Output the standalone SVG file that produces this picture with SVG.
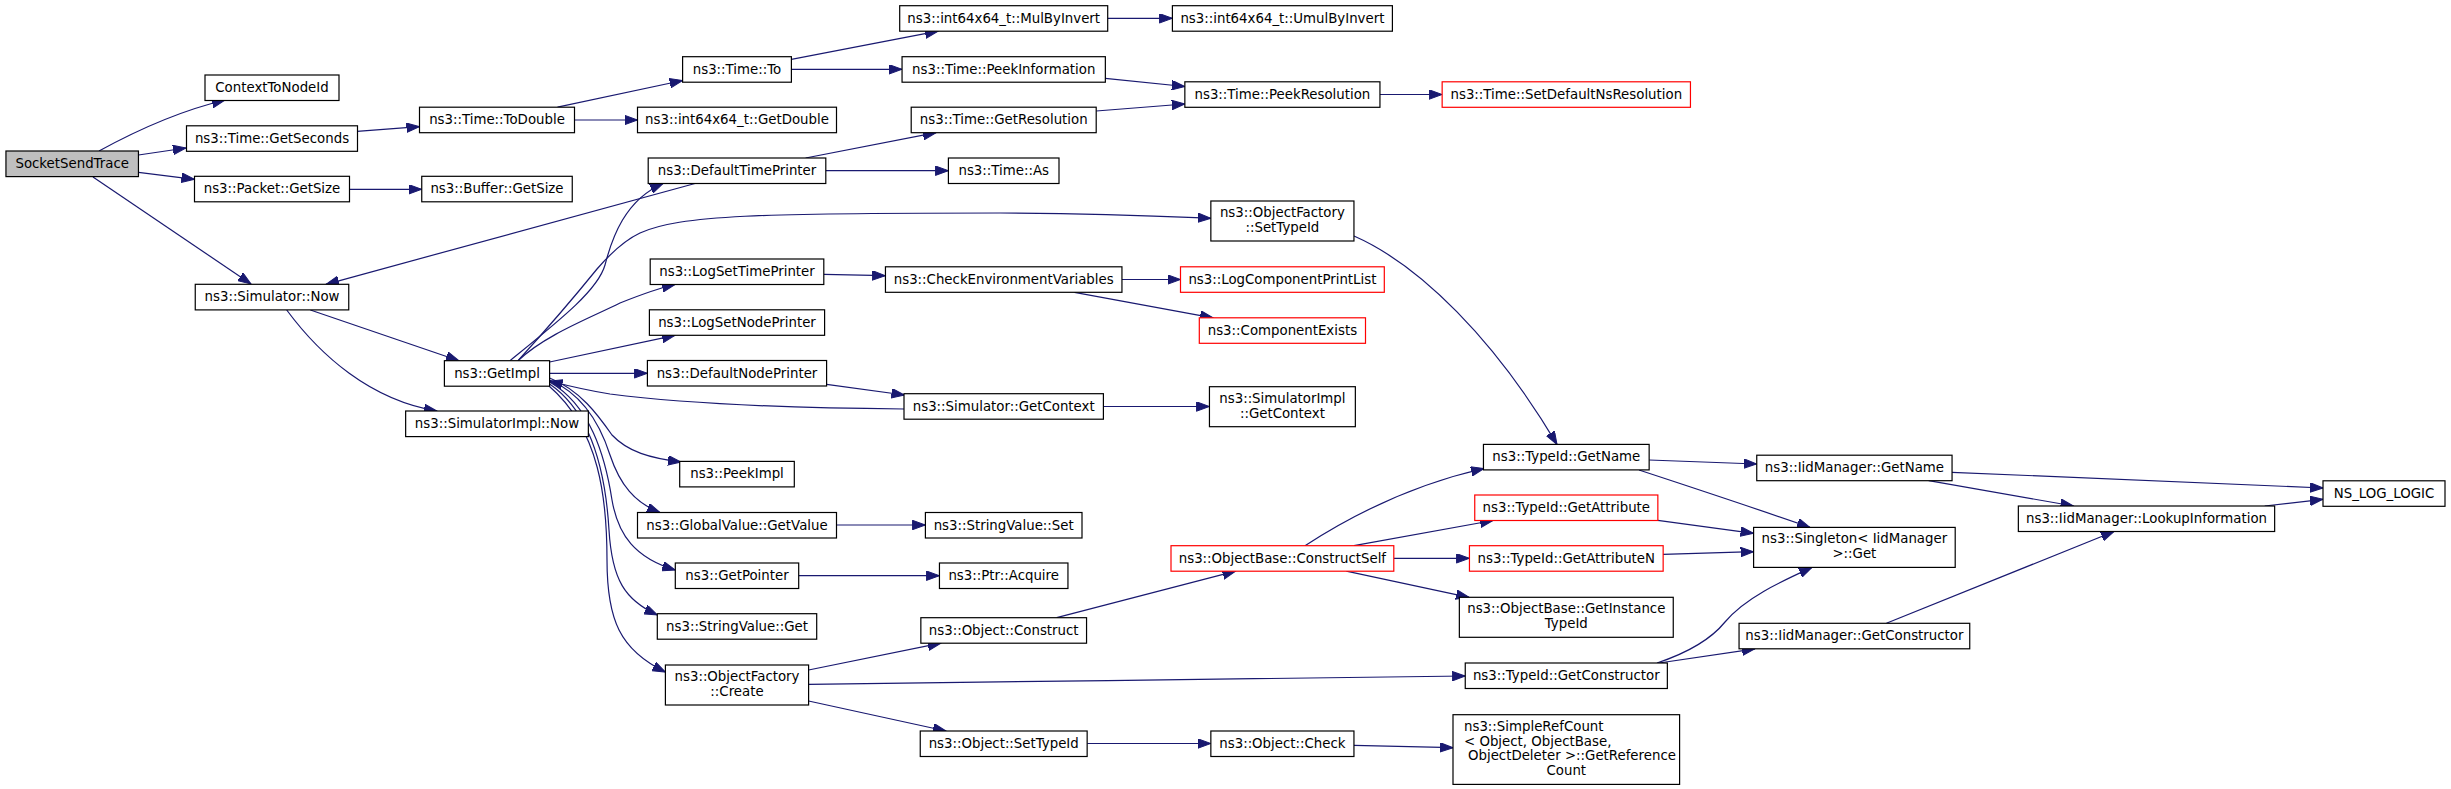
<svg xmlns="http://www.w3.org/2000/svg" width="2451" height="789" viewBox="0 0 2451 789">
<style>
.n rect{fill:#fff;stroke:#000;stroke-width:1.2}
.n.red rect{stroke:#f00}
.n.root rect{fill:#bfbfbf}
.n text{font-family:"DejaVu Sans","Liberation Sans",sans-serif;font-size:13.33px;text-anchor:middle;fill:#000}
.n text.l{text-anchor:start}
#edges path{fill:none;stroke:#191970;stroke-width:1.2;marker-end:url(#arr)}
</style>
<defs>
<marker id="arr" markerUnits="userSpaceOnUse" markerWidth="14" markerHeight="10" refX="13" refY="4.75" orient="auto"><path d="M0,0 L13,4.75 L0,9.5 z" fill="#191970" stroke="#191970" stroke-width="1"/></marker>
</defs>
<rect width="2451" height="789" fill="#fff"/>
<g id="edges">
<path d="M99,151 C130,134 175,112 225,100"/>
<path d="M138.5,155 L186,148"/>
<path d="M138.5,172.3 L194.5,179.3"/>
<path d="M93,177 L251,284"/>
<path d="M357,131.3 L419.5,126.7"/>
<path d="M557.5,107.2 L682.6,80.5"/>
<path d="M574.5,120 L637.5,120"/>
<path d="M349.5,189.3 L421.7,189.3"/>
<path d="M791.4,59.3 L938,31.2"/>
<path d="M1107.7,18.3 L1172.4,18.3"/>
<path d="M791.4,69.3 L902,69.3"/>
<path d="M1105.3,78.3 L1184.8,86.5"/>
<path d="M1096.2,111 L1184.8,104"/>
<path d="M1380,94.5 L1442.1,94.5"/>
<path d="M805.6,158 L936,132.7"/>
<path d="M825.8,170.7 L948.4,170.7"/>
<path d="M695,183.5 L326,284.3"/>
<path d="M310.4,310 L459,360.7"/>
<path d="M286.7,310 C320,355 370,400 437,411"/>
<path d="M510,360.7 C560,320 598,290 605,265 C612,238 625,200 663,183.5"/>
<path d="M518,360.7 C555,320 580,290 597,269 C610,254 625,240 640,233 C680,215 760,213 1000,213 C1100,213 1160,216 1210.8,218.3"/>
<path d="M518,360.7 C545,335 590,318 620,303 C640,295 655,289 675,284.5"/>
<path d="M549.6,362 L675,335.3"/>
<path d="M549.6,373.3 L647.4,373.3"/>
<path d="M904,409 C780,408 680,403 610,394 C585,390 565,385 549.6,381"/>
<path d="M549.6,378 C580,390 598,415 612,435 C628,452 650,458 681,462"/>
<path d="M549.6,380 C585,395 602,430 610,455 C620,485 635,503 660,512.5"/>
<path d="M549.6,382 C590,405 605,455 612,500 C618,535 635,558 675.3,570"/>
<path d="M549.6,384 C595,415 606,480 609,530 C612,580 625,600 657.3,615"/>
<path d="M549,386 C600,430 607,500 607,560 C607,620 620,650 665.4,672"/>
<path d="M823.8,274.3 L885.4,275.7"/>
<path d="M1122,279.5 L1180.5,279.5"/>
<path d="M1074.5,292.3 L1213,317.8"/>
<path d="M826.6,384.3 L904.5,395"/>
<path d="M1103.4,406.5 L1209.4,406.5"/>
<path d="M836.5,525 L925.4,525"/>
<path d="M798.7,575.7 L939.4,575.7"/>
<path d="M808.6,670 L940.8,643.2"/>
<path d="M808.6,684.3 C1000,682 1300,678 1465.2,676"/>
<path d="M808.6,701 L946,731"/>
<path d="M1056.7,617.7 L1235.6,571.2"/>
<path d="M1087.2,743.5 L1210.8,743.5"/>
<path d="M1353.9,745.3 L1453,747.7"/>
<path d="M1305,545.7 C1360,510 1420,483 1484,468.5"/>
<path d="M1354,545.7 L1493,520.5"/>
<path d="M1393.8,558.3 L1469.4,558.3"/>
<path d="M1346.3,571.2 L1469,597.3"/>
<path d="M1649.1,460 L1756.7,464"/>
<path d="M1639,470 C1700,490 1760,510 1810,527.4"/>
<path d="M1657.8,520.3 L1753.6,533.3"/>
<path d="M1663,554.3 L1753.6,551.7"/>
<path d="M1657,663 C1690,652 1712,638 1725,622 C1745,598 1780,582 1812,567.4"/>
<path d="M1659,663 L1755,648.8"/>
<path d="M1886.4,623.3 L2114,531.5"/>
<path d="M1952,472.3 L2323,488"/>
<path d="M1928.7,480.7 L2073.5,506"/>
<path d="M2264.7,506 L2323,499.3"/>
<path d="M1354,236 C1420,265 1495,340 1557,444.4"/>
</g>
<g id="n1" class="n root"><rect x="5.95" y="151" width="132.5" height="25.6"/><text x="72.2" y="168">SocketSendTrace</text></g>
<g id="n2" class="n"><rect x="205" y="75" width="134" height="25.5"/><text x="272" y="92">ContextToNodeId</text></g>
<g id="n3" class="n"><rect x="186.5" y="125.8" width="171" height="25.5"/><text x="272" y="142.8">ns3::Time::GetSeconds</text></g>
<g id="n4" class="n"><rect x="194.5" y="176.3" width="155" height="25.5"/><text x="272" y="193.3">ns3::Packet::GetSize</text></g>
<g id="n5" class="n"><rect x="195.25" y="284.3" width="153.5" height="25.6"/><text x="272" y="301.3">ns3::Simulator::Now</text></g>
<g id="n6" class="n"><rect x="419.5" y="107.2" width="155" height="25.5"/><text x="497" y="124.2">ns3::Time::ToDouble</text></g>
<g id="n7" class="n"><rect x="421.75" y="176.3" width="150.5" height="25.5"/><text x="497" y="193.3">ns3::Buffer::GetSize</text></g>
<g id="n8" class="n"><rect x="444.4" y="360.7" width="105.2" height="25.5"/><text x="497" y="377.7">ns3::GetImpl</text></g>
<g id="n9" class="n"><rect x="405.65" y="411" width="182.7" height="25.6"/><text x="497" y="428">ns3::SimulatorImpl::Now</text></g>
<g id="n10" class="n"><rect x="682.6" y="56.7" width="108.8" height="25.5"/><text x="737" y="73.7">ns3::Time::To</text></g>
<g id="n11" class="n"><rect x="637.5" y="107.2" width="199" height="25.5"/><text x="737" y="124.2">ns3::int64x64_t::GetDouble</text></g>
<g id="n12" class="n"><rect x="648.2" y="158" width="177.6" height="25.5"/><text x="737" y="175">ns3::DefaultTimePrinter</text></g>
<g id="n13" class="n"><rect x="650.2" y="259" width="173.6" height="25.5"/><text x="737" y="276">ns3::LogSetTimePrinter</text></g>
<g id="n14" class="n"><rect x="649.4" y="309.8" width="175.2" height="25.5"/><text x="737" y="326.8">ns3::LogSetNodePrinter</text></g>
<g id="n15" class="n"><rect x="647.4" y="360.5" width="179.2" height="25.5"/><text x="737" y="377.5">ns3::DefaultNodePrinter</text></g>
<g id="n16" class="n"><rect x="679.7" y="461.4" width="114.6" height="25.5"/><text x="737" y="478.4">ns3::PeekImpl</text></g>
<g id="n17" class="n"><rect x="637.5" y="512.5" width="199" height="25.5"/><text x="737" y="529.5">ns3::GlobalValue::GetValue</text></g>
<g id="n18" class="n"><rect x="675.3" y="563" width="123.4" height="25.5"/><text x="737" y="580">ns3::GetPointer</text></g>
<g id="n19" class="n"><rect x="657.3" y="613.7" width="159.4" height="25.5"/><text x="737" y="630.7">ns3::StringValue::Get</text></g>
<g id="n20" class="n"><rect x="665.4" y="665" width="143.2" height="40"/><text x="737" y="681">ns3::ObjectFactory</text><text x="737" y="696">::Create</text></g>
<g id="n21" class="n"><rect x="899.7" y="5.7" width="208" height="25.5"/><text x="1003.7" y="22.7">ns3::int64x64_t::MulByInvert</text></g>
<g id="n22" class="n"><rect x="902.05" y="56.7" width="203.3" height="25.5"/><text x="1003.7" y="73.7">ns3::Time::PeekInformation</text></g>
<g id="n23" class="n"><rect x="911.2" y="107.2" width="185" height="25.5"/><text x="1003.7" y="124.2">ns3::Time::GetResolution</text></g>
<g id="n24" class="n"><rect x="948.4" y="158" width="110.6" height="25.5"/><text x="1003.7" y="175">ns3::Time::As</text></g>
<g id="n25" class="n"><rect x="885.45" y="266.8" width="236.5" height="25.5"/><text x="1003.7" y="283.8">ns3::CheckEnvironmentVariables</text></g>
<g id="n26" class="n"><rect x="904" y="393.7" width="199.4" height="25.5"/><text x="1003.7" y="410.7">ns3::Simulator::GetContext</text></g>
<g id="n27" class="n"><rect x="925.4" y="512.5" width="156.6" height="25.5"/><text x="1003.7" y="529.5">ns3::StringValue::Set</text></g>
<g id="n28" class="n"><rect x="939.45" y="563" width="128.5" height="25.5"/><text x="1003.7" y="580">ns3::Ptr::Acquire</text></g>
<g id="n29" class="n"><rect x="920.85" y="617.7" width="165.7" height="25.5"/><text x="1003.7" y="634.7">ns3::Object::Construct</text></g>
<g id="n30" class="n"><rect x="920.25" y="731" width="166.9" height="25.5"/><text x="1003.7" y="748">ns3::Object::SetTypeId</text></g>
<g id="n31" class="n"><rect x="1172.4" y="5.7" width="220" height="25.5"/><text x="1282.4" y="22.7">ns3::int64x64_t::UmulByInvert</text></g>
<g id="n32" class="n"><rect x="1184.85" y="81.8" width="195.1" height="25.5"/><text x="1282.4" y="98.8">ns3::Time::PeekResolution</text></g>
<g id="n33" class="n"><rect x="1210.85" y="201" width="143.1" height="40"/><text x="1282.4" y="217">ns3::ObjectFactory</text><text x="1282.4" y="232">::SetTypeId</text></g>
<g id="n34" class="n red"><rect x="1180.5" y="266.8" width="203.8" height="25.5"/><text x="1282.4" y="283.8">ns3::LogComponentPrintList</text></g>
<g id="n35" class="n red"><rect x="1199.3" y="317.8" width="166.2" height="25.5"/><text x="1282.4" y="334.8">ns3::ComponentExists</text></g>
<g id="n36" class="n"><rect x="1209.45" y="386.7" width="145.9" height="40"/><text x="1282.4" y="402.7">ns3::SimulatorImpl</text><text x="1282.4" y="417.7">::GetContext</text></g>
<g id="n37" class="n red"><rect x="1171" y="545.7" width="222.8" height="25.5"/><text x="1282.4" y="562.7">ns3::ObjectBase::ConstructSelf</text></g>
<g id="n38" class="n"><rect x="1210.85" y="731" width="143.1" height="25.5"/><text x="1282.4" y="748">ns3::Object::Check</text></g>
<g id="n39" class="n red"><rect x="1442.15" y="81.8" width="248.3" height="25.5"/><text x="1566.3" y="98.8">ns3::Time::SetDefaultNsResolution</text></g>
<g id="n40" class="n"><rect x="1483.45" y="444.4" width="165.7" height="25.5"/><text x="1566.3" y="461.4">ns3::TypeId::GetName</text></g>
<g id="n41" class="n red"><rect x="1474.75" y="495" width="183.1" height="25.5"/><text x="1566.3" y="512">ns3::TypeId::GetAttribute</text></g>
<g id="n42" class="n red"><rect x="1469.45" y="545.7" width="193.7" height="25.5"/><text x="1566.3" y="562.7">ns3::TypeId::GetAttributeN</text></g>
<g id="n43" class="n"><rect x="1459.35" y="597.3" width="213.9" height="40"/><text x="1566.3" y="613.3">ns3::ObjectBase::GetInstance</text><text x="1566.3" y="628.3">TypeId</text></g>
<g id="n44" class="n"><rect x="1465.25" y="663" width="202.1" height="25.5"/><text x="1566.3" y="680">ns3::TypeId::GetConstructor</text></g>
<g id="n45" class="n"><rect x="1453" y="714.7" width="226.6" height="69.7"/><text class="l" x="1464" y="731">ns3::SimpleRefCount</text><text class="l" x="1464" y="745.7">&lt; Object, ObjectBase,</text><text class="l" x="1468" y="760.3">ObjectDeleter &gt;::GetReference</text><text x="1566.3" y="775">Count</text></g>
<g id="n46" class="n"><rect x="1756.75" y="455.2" width="195.3" height="25.5"/><text x="1854.4" y="472.2">ns3::IidManager::GetName</text></g>
<g id="n47" class="n"><rect x="1753.6" y="527.4" width="201.6" height="40"/><text x="1854.4" y="543.4">ns3::Singleton&lt; IidManager</text><text x="1854.4" y="558.4"> &gt;::Get</text></g>
<g id="n48" class="n"><rect x="1739.05" y="623.3" width="230.7" height="25.5"/><text x="1854.4" y="640.3">ns3::IidManager::GetConstructor</text></g>
<g id="n49" class="n"><rect x="2018.35" y="506" width="256.3" height="25.5"/><text x="2146.5" y="523">ns3::IidManager::LookupInformation</text></g>
<g id="n50" class="n"><rect x="2323" y="480.8" width="122" height="25.5"/><text x="2384" y="497.8">NS_LOG_LOGIC</text></g>
</svg>
